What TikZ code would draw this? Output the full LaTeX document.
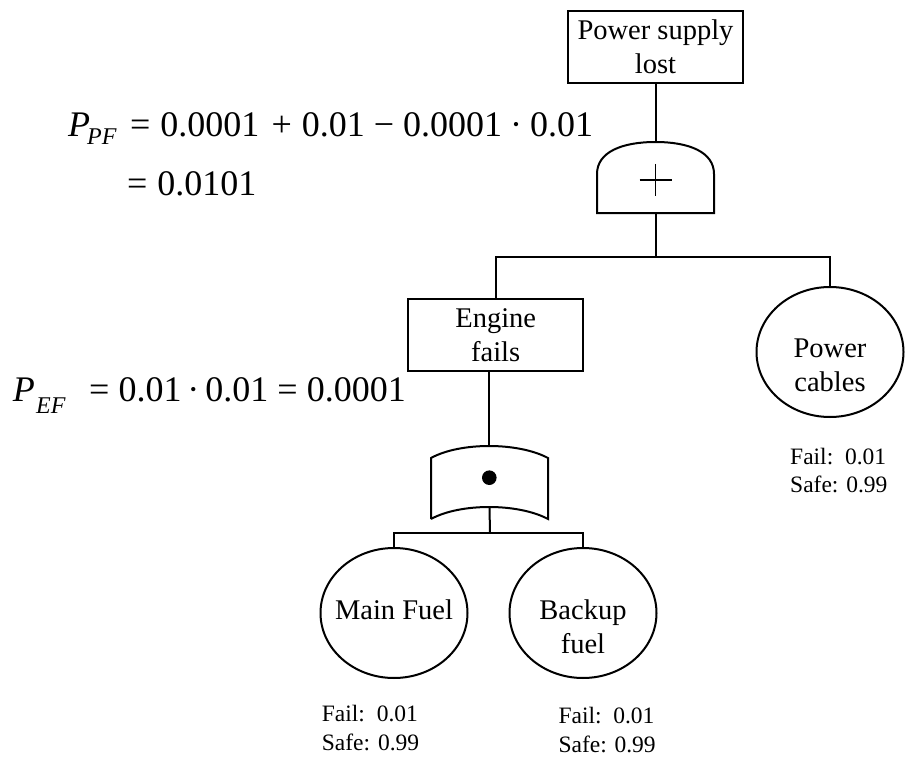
\documentclass[tikz,border=0pt]{standalone}
\usepackage{fontspec}
\setmainfont{Liberation Serif}
\usetikzlibrary{shapes.geometric}

\begin{document}
\begin{tikzpicture}[x=1pt,y=-1pt,
  wire/.style={line width=2pt},
  gate/.style={line width=2pt},
  evbox/.style={draw,line width=2pt,rectangle,minimum width=175pt,minimum height=72pt,inner sep=0pt},
  basic/.style={draw,line width=2pt,ellipse,minimum width=147pt,minimum height=130pt,inner sep=0pt},
  lbl/.style={inner sep=0pt,align=center,font=\fontsize{28.5}{34}\selectfont},
  prob/.style={inner sep=0pt,align=left,anchor=west,font=\fontsize{23.5}{28.5}\selectfont},
  eq/.style={inner sep=0pt,anchor=base west,font=\fontsize{36}{40}\selectfont},
  eqsub/.style={inner sep=0pt,anchor=base west,font=\fontsize{24}{26}\selectfont\itshape}]
\useasboundingbox (0,0) rectangle (908,757);

% top event and OR gate
\node[evbox] (top) at (655.5,47) {};
\node[lbl] (toptext) at (655.5,47) {Power supply\\lost};
\coordinate (ortop) at (655.5,142);
\coordinate (orbot) at (655.5,213);
\draw[gate] (597,213) -- (597,174)
  .. controls (597,152) and (622,142) .. (ortop)
  .. controls (689,142) and (714,152) .. (714,174) -- (714,213) -- cycle;
\draw[line width=1.8pt] (639.5,180) -- (671.5,180) (655.5,164) -- (655.5,196);

% intermediate event and AND gate
\node[evbox] (eng) at (495.7,335) {};
\node[lbl] (engtext) at (495.7,335) {Engine\\fails};
\coordinate (andtop) at (489,446);
\coordinate (andbot) at (489.5,507);
\draw[gate] (431,519) -- (431,458)
  .. controls (460,442) and (518,442) .. (548,458)
  -- (548,519)
  .. controls (518,503) and (460,503) .. (431,519);
\fill (489.3,477.7) circle (7.3pt);

% basic events
\node[basic] (cab) at (830,352) {};
\node[lbl] (cabtext) at (830,365.5) {Power\\cables};
\node[basic] (mf) at (394,613) {};
\node[lbl] (mftext) at (394,609.5) {Main Fuel};
\node[basic] (bf) at (583,613) {};
\node[lbl] (bftext) at (583,627) {Backup\\fuel};

% connectors
\draw[wire] (top.south) -- (ortop);
\coordinate (orbar) at (655.5,257.3);
\draw[wire] (orbot) -- (orbar);
\draw[wire] (eng.north) |- (orbar) -| (cab.north);
\draw[wire] (andtop |- eng.south) -- (andtop);
\coordinate (andbar) at (490,533.3);
\draw[wire] (andbot) -- (andbar);
\draw[wire] (mf.north) |- (andbar) -| (bf.north);

% probabilities of the basic events
\node[prob] (cabp) at (790,470.5) {Fail:\ \ 0.01\\Safe: 0.99};
\node[prob] (mfp) at (321.7,727.9) {Fail:\ \ 0.01\\Safe: 0.99};
\node[prob] (bfp) at (558.3,729.9) {Fail:\ \ 0.01\\Safe: 0.99};

% probability of the top event
\node[eq] (pf) at (68,137) {\itshape P};
\node[eqsub] (pfsub) at (87,145) {PF};
\node[eq] (pfeq) at (130,137) {=\hspace{10pt}0.0001\hspace{12pt}+\hspace{10pt}0.01\hspace{9pt}−\hspace{9pt}0.0001\hspace{8pt}·\hspace{8pt}0.01};
\node[eq] (pfeq2) at (127,195) {=\hspace{10pt}0.0101};

% probability of the engine failure
\node[eq] (ef) at (12.7,401) {\itshape P};
\node[eqsub] (efsub) at (36,413) {EF};
\node[eq] (efeq) at (89,401) {=\hspace{9pt}0.01\hspace{6pt}·\hspace{6pt}0.01\hspace{9pt}=\hspace{9pt}0.0001};
\end{tikzpicture}
\end{document}
